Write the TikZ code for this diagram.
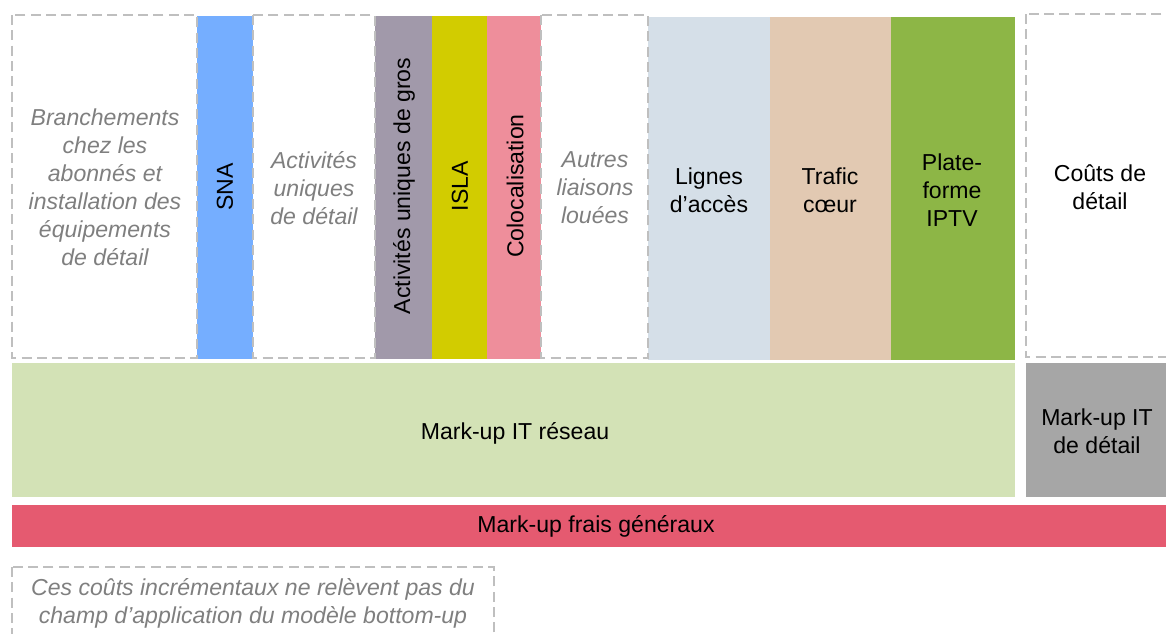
\documentclass[tikz,border=0pt]{standalone}
\usepackage{fontspec}
\setmainfont{Liberation Sans}

\definecolor{snablue}{HTML}{75AEFF}
\definecolor{grosgrey}{HTML}{A199AA}
\definecolor{islayellow}{HTML}{D2CC00}
\definecolor{colopink}{HTML}{EE8E9B}
\definecolor{accesblue}{HTML}{D5DFE8}
\definecolor{coeurtan}{HTML}{E2C9B2}
\definecolor{iptvgreen}{HTML}{8DB646}
\definecolor{reseaugreen}{HTML}{D3E2B6}
\definecolor{detailgrey}{HTML}{A6A6A6}
\definecolor{fraisred}{HTML}{E55A70}
\definecolor{dashgrey}{HTML}{BFBFBF}
\definecolor{notegrey}{HTML}{7F7F7F}

\begin{document}
\begin{tikzpicture}[x=0.75pt,y=-0.75pt,
  dashbox/.style={draw=dashgrey,line width=1.6pt,dash pattern=on 7.5pt off 4pt},
  lbl/.style={align=center,text=black,font=\fontsize{17.3}{21}\selectfont},
  note/.style={align=center,text=notegrey,font=\fontsize{17.3}{21}\selectfont\itshape}]
  \path[clip] (0,0) rectangle (1166,633);

  % cost columns
  \fill[snablue]    (197,16) rectangle (253,359);
  \fill[grosgrey]   (375,16) rectangle (432,359);
  \fill[islayellow] (432,16) rectangle (487,359);
  \fill[colopink]   (487,16) rectangle (541,359);
  \fill[accesblue]  (648,17) rectangle (770,360);
  \fill[coeurtan]   (770,17) rectangle (891,360);
  \fill[iptvgreen]  (891,17) rectangle (1015,360);

  % mark-ups
  \fill[reseaugreen] (12,363) rectangle (1015,497);
  \fill[detailgrey]  (1026,363) rectangle (1166,497);
  \fill[fraisred]    (12,505) rectangle (1166,547);

  % costs outside the model
  \draw[dashbox] (12,15) rectangle (197,358);
  \draw[dashbox] (253,15) rectangle (375,358);
  \draw[dashbox] (541,15) rectangle (648,358);
  \draw[dashbox] (1026,14) rectangle (1180,357);
  \draw[dashbox] (12,567) rectangle (494,650);

  \node[note] (branch) at (105,187) {Branchements\\chez les\\abonnés et\\installation des\\équipements\\de détail};
  \node[lbl,rotate=90] (sna) at (225,187) {SNA};
  \node[note] (uniqdet) at (314,188) {Activités\\uniques\\de détail};
  \node[lbl,rotate=90] (uniqgros) at (404,186) {Activités uniques de gros};
  \node[lbl,rotate=90] (isla) at (460,186) {ISLA};
  \node[lbl,rotate=90] (coloc) at (515,186) {Colocalisation};
  \node[note] (liaisons) at (595,188) {Autres\\liaisons\\louées};
  \node[lbl] (acces) at (709,190) {Lignes\\d’accès};
  \node[lbl] (coeur) at (830,190) {Trafic\\cœur};
  \node[lbl] (iptv) at (952,190) {Plate-\\forme\\IPTV};
  \node[lbl] (detail) at (1100,187) {Coûts de\\détail};

  \node[lbl] (itreseau) at (515,433) {Mark-up IT réseau};
  \node[lbl] (itdetail) at (1097,431) {Mark-up IT\\de détail};
  \node[lbl] (frais) at (596,526) {Mark-up frais généraux};

  \node[note] (horsmodele) at (253,603) {Ces coûts incrémentaux ne relèvent pas du\\champ d’application du modèle bottom-up};
\end{tikzpicture}
\end{document}
